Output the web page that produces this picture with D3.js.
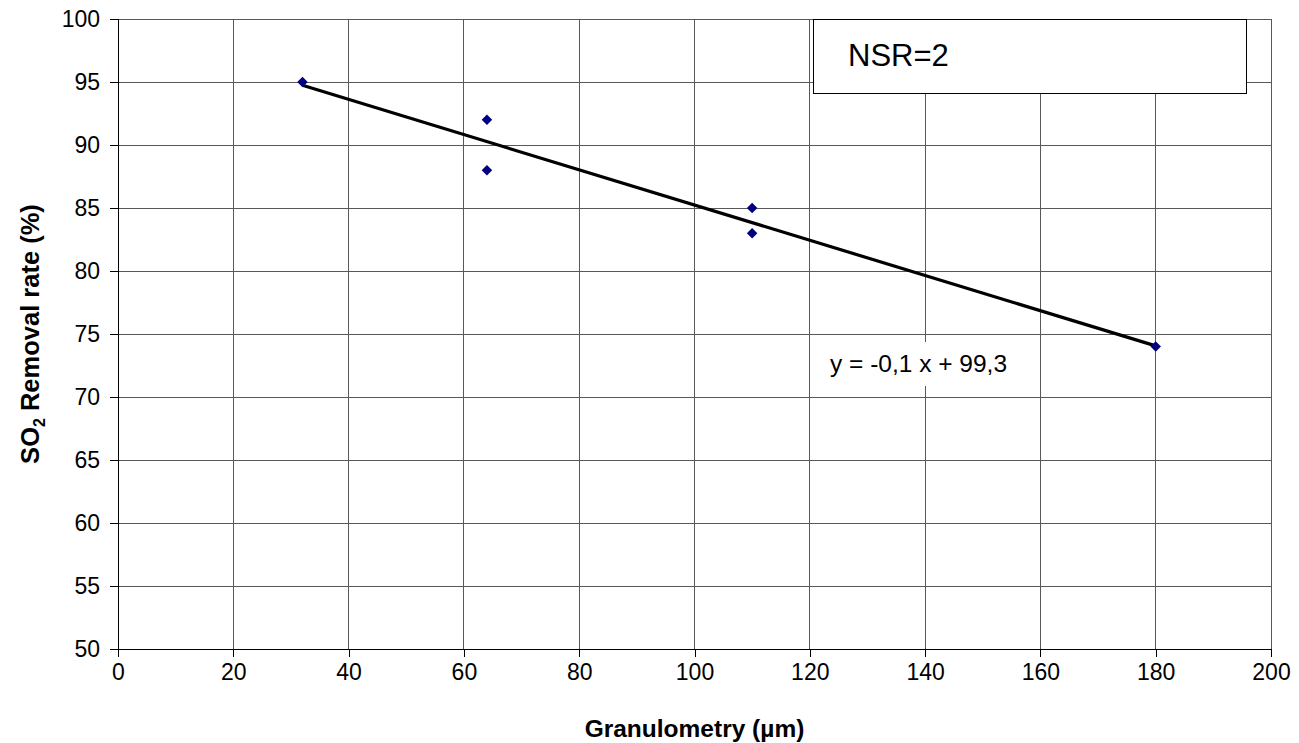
<!DOCTYPE html>
<html lang="en">
<head>
  <meta charset="UTF-8">
  <title>SO2 removal vs granulometry</title>
  <script src="https://d3js.org/d3.v7.min.js"></script>
  <style>
    body { margin: 0; background: #fff; }
    text { font-family: "Liberation Sans", Arial, sans-serif; }
  </style>
</head>
<body>
  <script>
    // measured points
    var granulometry = [32, 64, 64, 110, 110, 180];
    var removalRate = [95, 92, 88, 85, 83, 74];

    var xTicks = [0, 20, 40, 60, 80, 100, 120, 140, 160, 180, 200];
    var yTicks = [50, 55, 60, 65, 70, 75, 80, 85, 90, 95, 100];

    var nsrLabel = "NSR=2";
    var equationLabel = "y = -0,1 x + 99,3";

    var W = 1299, H = 743;
    var margin = { top: 19, right: 28, bottom: 94, left: 118 };
    var width = W - margin.left - margin.right;
    var height = H - margin.top - margin.bottom;

    var x = d3.scaleLinear().domain([0, 200]).range([0, width]);
    var y = d3.scaleLinear().domain([50, 100]).range([height, 0]);

    var svg = d3.select("body").append("svg")
      .attr("width", W)
      .attr("height", H)
      .append("g")
      .attr("transform", "translate(" + margin.left + "," + margin.top + ")");

    // grid
    svg.append("g")
      .selectAll("line")
      .data(xTicks.slice(1))
      .enter()
      .append("line")
      .attr("x1", function (d) { return x(d); })
      .attr("x2", function (d) { return x(d); })
      .attr("y1", 0)
      .attr("y2", height)
      .attr("stroke", "#585858")
      .attr("shape-rendering", "crispEdges");

    svg.append("g")
      .selectAll("line")
      .data(yTicks.slice(1))
      .enter()
      .append("line")
      .attr("x1", 0)
      .attr("x2", width)
      .attr("y1", function (d) { return y(d); })
      .attr("y2", function (d) { return y(d); })
      .attr("stroke", "#585858")
      .attr("shape-rendering", "crispEdges");

    // axes
    var xAxis = svg.append("g")
      .attr("transform", "translate(0," + height + ")")
      .call(d3.axisBottom(x).tickValues(xTicks).tickSize(8).tickPadding(7).tickFormat(d3.format("d")));

    var yAxis = svg.append("g")
      .call(d3.axisLeft(y).tickValues(yTicks).tickSize(8).tickPadding(10).tickFormat(d3.format("d")));

    [xAxis, yAxis].forEach(function (a) {
      a.select(".domain").attr("stroke", "#000").attr("shape-rendering", "crispEdges");
      a.selectAll(".tick line").attr("stroke", "#000").attr("shape-rendering", "crispEdges");
      a.selectAll(".tick text")
        .attr("fill", "#000")
        .style("font-family", "'Liberation Sans', Arial, sans-serif")
        .style("font-size", "23px");
    });

    // trend line (least squares)
    var mx = d3.mean(granulometry), my = d3.mean(removalRate);
    var sxy = d3.sum(granulometry, function (d, i) { return (d - mx) * (removalRate[i] - my); });
    var sxx = d3.sum(granulometry, function (d) { return (d - mx) * (d - mx); });
    var slope = sxy / sxx;
    var intercept = my - slope * mx;
    var ext = d3.extent(granulometry);

    svg.append("line")
      .attr("x1", x(ext[0]))
      .attr("y1", y(intercept + slope * ext[0]))
      .attr("x2", x(ext[1]))
      .attr("y2", y(intercept + slope * ext[1]))
      .attr("stroke", "#000")
      .attr("stroke-width", 3.2);

    // markers
    svg.append("g")
      .selectAll("path")
      .data(granulometry)
      .enter()
      .append("path")
      .attr("d", d3.symbol().type(d3.symbolDiamond2).size(70))
      .attr("transform", function (d, i) { return "translate(" + x(d) + "," + y(removalRate[i]) + ")"; })
      .attr("fill", "#000080");

    // equation label
    svg.append("rect")
      .attr("x", 710)
      .attr("y", 323)
      .attr("width", 184)
      .attr("height", 44)
      .attr("fill", "#fff");

    svg.append("text")
      .attr("x", 712)
      .attr("y", 353)
      .style("font-size", "24.5px")
      .text(equationLabel);

    // NSR box
    svg.append("rect")
      .attr("x", 695.5)
      .attr("y", 0.5)
      .attr("width", 433)
      .attr("height", 74)
      .attr("fill", "#fff")
      .attr("stroke", "#000")
      .attr("stroke-width", 1);

    svg.append("text")
      .attr("x", 730)
      .attr("y", 47)
      .style("font-size", "31px")
      .text(nsrLabel);

    // axis titles
    svg.append("text")
      .attr("x", width / 2)
      .attr("y", height + 88)
      .attr("text-anchor", "middle")
      .style("font-size", "24.5px")
      .style("font-weight", "bold")
      .text("Granulometry (µm)");

    var yl = svg.append("text")
      .attr("transform", "translate(-79," + (height / 2) + ") rotate(-90)")
      .attr("text-anchor", "middle")
      .style("font-size", "25.5px")
      .style("font-weight", "bold");
    yl.append("tspan").text("SO");
    yl.append("tspan").attr("dy", 6).style("font-size", "16px").text("2");
    yl.append("tspan").attr("dy", -6).text(" Removal rate (%)");
  </script>
</body>
</html>
